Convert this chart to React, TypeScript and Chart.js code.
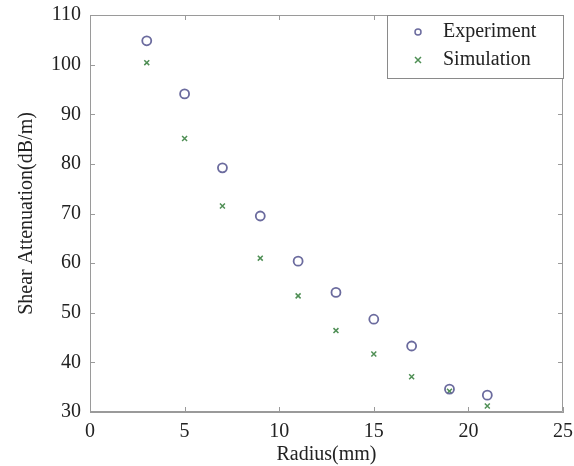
import React, { useEffect, useRef } from "react";
import { Chart, registerables } from "chart.js";

Chart.register(...registerables);

const radius = [3, 5, 7, 9, 11, 13, 15, 17, 19, 21];
const experiment = [104.8, 94.1, 79.2, 69.5, 60.4, 54.1, 48.7, 43.3, 34.6, 33.4];
const simulation = [100.4, 85.1, 71.5, 61.0, 53.4, 46.4, 41.7, 37.1, 34.2, 31.2];
const seriesNames = ["Experiment", "Simulation"];
const xTitle = "Radius(mm)";
const yTitle = "Shear Attenuation(dB/m)";

const FONT = "'Liberation Serif', 'Times New Roman', serif";
const AXIS = "#9a9a9a";
const EXP_COLOR = "#6b6b9e";
const SIM_COLOR = "#4f8f55";

const framePlugin = {
  id: "frame",
  afterDraw(chart: any) {
    const { ctx, chartArea: a, scales } = chart;
    const xs = scales.x;
    const ys = scales.y;
    ctx.save();
    ctx.strokeStyle = AXIS;
    ctx.lineWidth = 1;
    ctx.beginPath();
    ctx.rect(a.left + 0.5, a.top + 0.5, a.right - a.left - 1, a.bottom - a.top - 1);
    ctx.stroke();
    const tl = 5;
    ctx.beginPath();
    xs.ticks.forEach((t: any) => {
      const px = Math.round(xs.getPixelForValue(t.value)) + 0.5;
      ctx.moveTo(px, a.bottom);
      ctx.lineTo(px, a.bottom - tl);
      ctx.moveTo(px, a.top);
      ctx.lineTo(px, a.top + tl);
    });
    ys.ticks.forEach((t: any) => {
      const py = Math.round(ys.getPixelForValue(t.value)) + 0.5;
      ctx.moveTo(a.left, py);
      ctx.lineTo(a.left + tl, py);
      ctx.moveTo(a.right, py);
      ctx.lineTo(a.right - tl, py);
    });
    ctx.stroke();

    // legend
    const lx = 387, ly = 15, lw = 177, lh = 64;
    ctx.fillStyle = "#ffffff";
    ctx.fillRect(lx, ly, lw, lh);
    ctx.strokeStyle = "#8a8a8a";
    ctx.strokeRect(lx + 0.5, ly + 0.5, lw - 1, lh - 1);
    const rows = [
      { name: seriesNames[0], y: 32, style: "circle", color: EXP_COLOR },
      { name: seriesNames[1], y: 60, style: "crossRot", color: SIM_COLOR },
    ];
    rows.forEach((r) => {
      ctx.strokeStyle = r.color;
      ctx.lineWidth = 1.5;
      ctx.beginPath();
      if (r.style === "circle") {
        ctx.arc(418, r.y, 3, 0, Math.PI * 2);
      } else {
        ctx.moveTo(415, r.y - 3);
        ctx.lineTo(421, r.y + 3);
        ctx.moveTo(421, r.y - 3);
        ctx.lineTo(415, r.y + 3);
      }
      ctx.stroke();
      ctx.fillStyle = "#222222";
      ctx.font = `20px ${FONT}`;
      ctx.textAlign = "left";
      ctx.textBaseline = "middle";
      ctx.fillText(r.name, 443, r.y);
    });
    ctx.restore();
  },
};

export default function App() {
  const ref = useRef<HTMLCanvasElement>(null);
  useEffect(() => {
    document.body.style.margin = "0";
    const ctx = ref.current!.getContext("2d")!;
    const chart = new Chart(ctx, {
      type: "scatter",
      data: {
        datasets: [
          {
            label: seriesNames[0],
            data: radius.map((x, i) => ({ x, y: experiment[i] })),
            pointStyle: "circle",
            pointRadius: 4.5,
            borderColor: EXP_COLOR,
            backgroundColor: "rgba(0,0,0,0)",
            borderWidth: 1.8,
          },
          {
            label: seriesNames[1],
            data: radius.map((x, i) => ({ x, y: simulation[i] })),
            pointStyle: "crossRot",
            pointRadius: 3.5,
            borderColor: SIM_COLOR,
            backgroundColor: SIM_COLOR,
            borderWidth: 1.5,
          },
        ],
      },
      options: {
        animation: false,
        responsive: false,
        layout: { padding: { left: 0, top: 15, right: 11, bottom: 0 } },
        plugins: { legend: { display: false }, tooltip: { enabled: false } },
        scales: {
          x: {
            type: "linear",
            min: 0,
            max: 25,
            afterFit: (s: any) => { s.height = 54; },
            grid: { display: false, drawTicks: true, tickLength: 8 },
            border: { display: true, color: AXIS },
            ticks: { stepSize: 5, padding: 0, color: "#222", font: { family: FONT, size: 20 } },
            title: { display: true, text: xTitle, color: "#222", font: { family: FONT, size: 20 }, padding: { top: 0, bottom: -1 } },
          },
          y: {
            type: "linear",
            min: 30,
            max: 110,
            afterFit: (s: any) => { s.width = 90; },
            grid: { display: false, drawTicks: true, tickLength: 9 },
            border: { display: true, color: AXIS },
            ticks: { stepSize: 10, padding: 0, color: "#222", font: { family: FONT, size: 20 } },
            title: { display: true, text: yTitle, color: "#222", font: { family: FONT, size: 20 }, padding: { top: 15, bottom: 0 } },
          },
        },
      },
      plugins: [framePlugin],
    });
    return () => chart.destroy();
  }, []);
  return (
    <div style={{ position: "absolute", left: 0, top: 0, width: 574, height: 466, background: "#fff" }}>
      <canvas ref={ref} width={574} height={466} />
    </div>
  );
}
